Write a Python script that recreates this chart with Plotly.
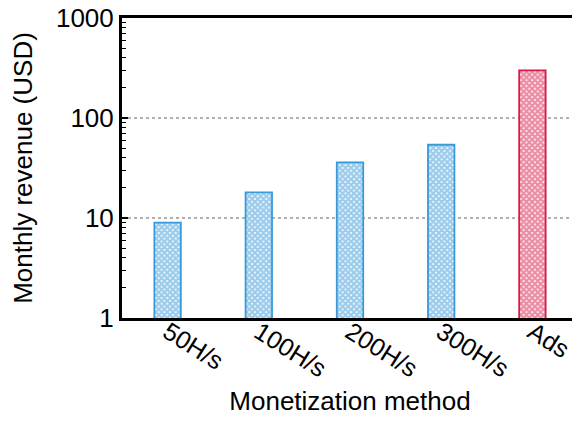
import plotly.graph_objects as go

categories = ["50H/s", "100H/s", "200H/s", "300H/s", "Ads"]
revenue = [9, 18, 36, 54, 300]
bar_colors = ["#3a9ad9", "#3a9ad9", "#3a9ad9", "#3a9ad9", "#d81b4a"]
y_tickvals = [1, 10, 100, 1000]
y_ticktext = ["1", "10", "100", "1000"]
y_minor_vals = [m * d for d in (1, 10, 100) for m in range(2, 10)]

FONT = "Liberation Sans, Arial, Helvetica, sans-serif"

fig = go.Figure()
fig.add_trace(go.Bar(
    x=categories,
    y=revenue,
    width=0.29,
    marker=dict(
        color="white",
        line=dict(color=bar_colors, width=1.8),
        pattern=dict(shape="x", fgcolor=bar_colors, bgcolor="white", size=4, solidity=0.8),
    ),
    showlegend=False,
))
# invisible trace so the right-hand mirror axis gets drawn
fig.add_trace(go.Scatter(
    x=categories, y=revenue, yaxis="y2", mode="none",
    hoverinfo="skip", showlegend=False,
))

# the page body adds an 8px offset; size and margins compensate for it
fig.update_layout(
    width=572, height=408,
    margin=dict(l=114, r=2, t=10, b=98),
    paper_bgcolor="white", plot_bgcolor="white",
    font=dict(family=FONT, size=26, color="black"),
    yaxis2=dict(
        overlaying="y", side="right", anchor="x", type="log", range=[0, 3],
        automargin=False, showticklabels=False, showgrid=False, zeroline=False,
        tickmode="array", tickvals=y_tickvals,
        showline=True, linewidth=1.5, linecolor="black",
        ticks="inside", ticklen=6, tickwidth=1.5, tickcolor="black",
        minor=dict(tickmode="array", tickvals=y_minor_vals, ticks="inside",
                   ticklen=4, tickwidth=1.2, tickcolor="black", showgrid=False),
    ),
)
fig.update_xaxes(
    automargin=False,
    showline=True, linewidth=3, linecolor="black", mirror=True,
    ticks="", tickangle=32, tickfont=dict(size=25), ticklabelstandoff=-13,
    title=dict(text="Monetization method", font=dict(size=26), standoff=18),
    showgrid=False,
)
fig.update_layout(yaxis=dict(
    automargin=False,
    type="log", range=[0, 3],
    tickmode="array", tickvals=y_tickvals, ticktext=y_ticktext,
    showline=True, linewidth=3, linecolor="black", mirror=False,
    ticks="inside", ticklen=6, tickwidth=1.5, tickcolor="black",
    tickfont=dict(size=26), ticklabeloverflow="allow",
    minor=dict(tickmode="array", tickvals=y_minor_vals, ticks="inside",
               ticklen=4, tickwidth=1.2, tickcolor="black", showgrid=False),
    showgrid=True, gridcolor="#b0b0b0", gridwidth=2, griddash="dot",
    title=dict(text="Monthly revenue (USD)", font=dict(size=26), standoff=16),
    zeroline=False,
))
fig.write_html("out.html")
